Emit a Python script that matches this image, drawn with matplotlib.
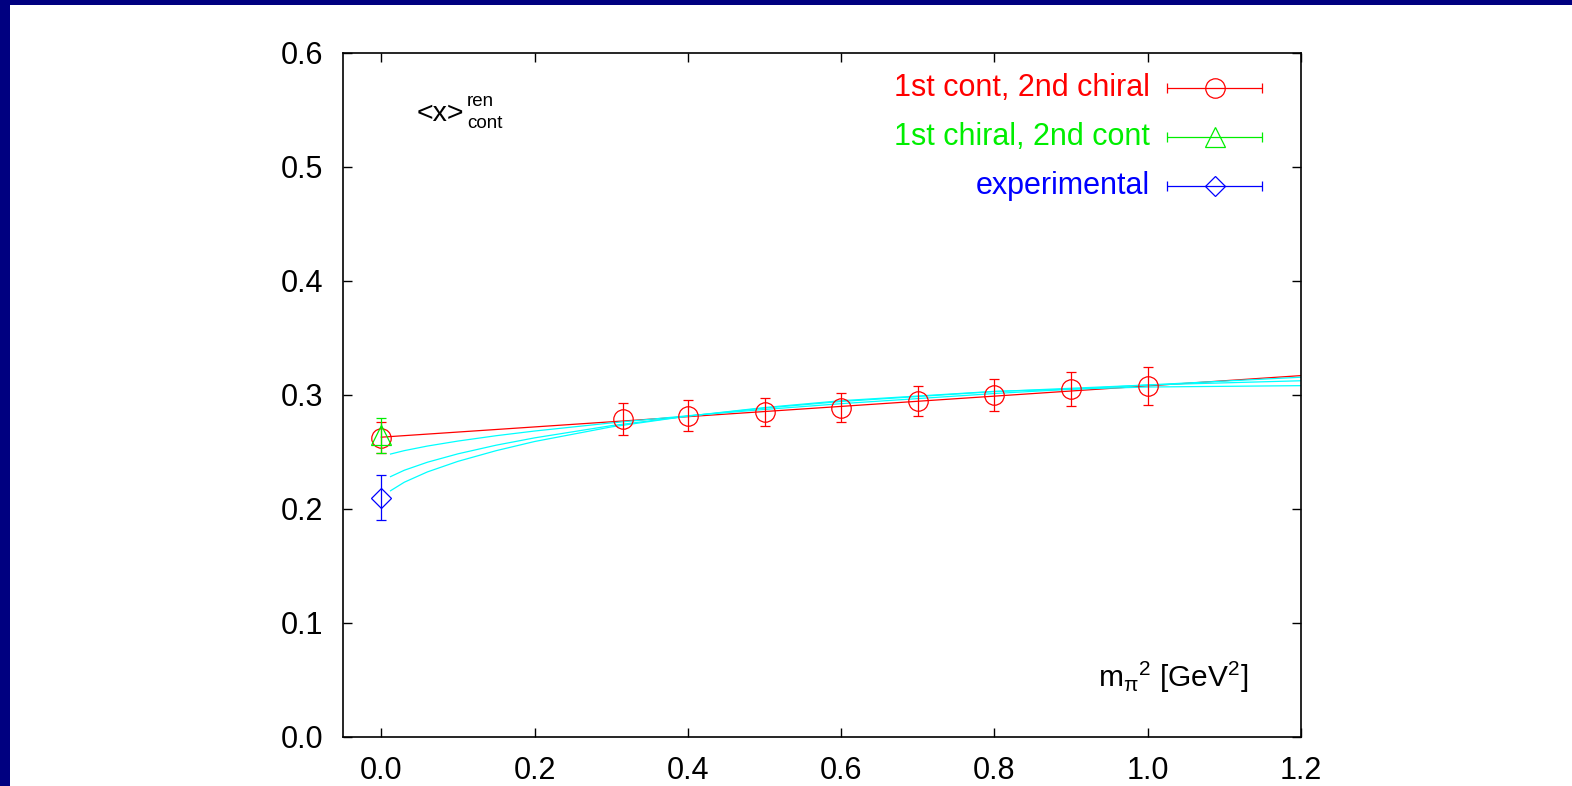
import matplotlib
matplotlib.use("Agg")
from matplotlib import pyplot as plt
from matplotlib.patches import Rectangle

plt.rcParams['font.family'] = ['Liberation Sans', 'DejaVu Sans']
plt.rcParams['mathtext.fontset'] = 'custom'
plt.rcParams['mathtext.rm'] = 'Liberation Sans'
plt.rcParams['mathtext.it'] = 'Liberation Sans'

# data
contX = [0.0, 0.315, 0.4, 0.5, 0.6, 0.7, 0.8, 0.9, 1.0]
contY = [0.2625, 0.279, 0.282, 0.285, 0.289, 0.295, 0.300, 0.305, 0.308]
contE = [0.0135, 0.014, 0.0135, 0.0125, 0.0125, 0.013, 0.014, 0.015, 0.017]

chiralX = [0.0]
chiralY = [0.2645]
chiralE = [0.0155]

expX = [0.0]
expY = [0.21]
expE = [0.02]

fitX = [0.0, 1.2]
fitY = [0.263, 0.317]

curveX = [0.012, 0.03, 0.06, 0.1, 0.15, 0.2, 0.3, 0.4, 0.5, 0.6, 0.8, 1.0, 1.2]
curve1 = [0.2482, 0.2512, 0.2552, 0.2596, 0.2643, 0.2684, 0.2755, 0.2818, 0.2873, 0.2924, 0.3013, 0.3088, 0.3156]
curve2 = [0.2284, 0.2340, 0.2410, 0.2484, 0.2560, 0.2624, 0.2731, 0.2815, 0.2885, 0.2943, 0.3030, 0.3088, 0.3125]
curve3 = [0.2160, 0.2235, 0.2325, 0.2418, 0.2512, 0.2592, 0.2720, 0.2815, 0.2890, 0.2950, 0.3032, 0.3070, 0.3082]

labels = ["1st cont, 2nd chiral", "1st chiral, 2nd cont", "experimental"]
colors = ["#ff0000", "#00ee00", "#0000ff"]

fig = plt.figure(figsize=(15.72, 7.86), dpi=100)
fig.patch.set_facecolor("#000080")
fig.patches.append(Rectangle((10/1572, 0), 1 - 10/1572, 1 - 4.7/786,
                             transform=fig.transFigure, facecolor="white",
                             edgecolor="none", zorder=-10))

ax = fig.add_axes([343/1572, 1 - 737/786, 958/1572, 684/786])
ax.set_facecolor("white")

for c in [curve1, curve2, curve3]:
    ax.plot(curveX, c, color="#00ffff", lw=0.9, zorder=2)
ax.plot(fitX, fitY, color="#ff0000", lw=0.9, zorder=1)

ms = {"o": 14, "^": 14, "D": 10}
ax.errorbar(contX, contY, yerr=contE, fmt="o", mfc="none", mec=colors[0],
            ecolor=colors[0], ms=ms["o"], mew=0.9, elinewidth=0.9,
            capsize=3.5, capthick=0.9, zorder=3)
ax.errorbar(chiralX, chiralY, yerr=chiralE, fmt="^", mfc="none", mec=colors[1],
            ecolor=colors[1], ms=ms["^"], mew=0.9, elinewidth=0.9,
            capsize=3.5, capthick=0.9, zorder=4)
ax.errorbar(expX, expY, yerr=expE, fmt="D", mfc="none", mec=colors[2],
            ecolor=colors[2], ms=ms["D"], mew=0.9, elinewidth=0.9,
            capsize=3.5, capthick=0.9, zorder=3)

# legend drawn by hand, gnuplot style
legY = [0.5693, 0.5263, 0.4833]
for lab, col, mk, yy in zip(labels, colors, ["o", "^", "D"], legY):
    ax.text(1.003, yy, lab, color=col, fontsize=22, ha="right", va="center")
    ax.errorbar([1.0875], [yy], xerr=[0.0618], fmt=mk, mfc="none", mec=col,
                ecolor=col, ms=ms[mk], mew=0.9, elinewidth=0.9,
                capsize=3.5, capthick=0.9)

ax.text(417/1572, 1 - 114/786, "<x>", transform=fig.transFigure,
        fontsize=20.5, ha="left", va="center")
ax.text(467/1572, 1 - 101/786, "ren", transform=fig.transFigure,
        fontsize=13.5, ha="left", va="center")
ax.text(467/1572, 1 - 123/786, "cont", transform=fig.transFigure,
        fontsize=13.5, ha="left", va="center")

ax.text(1248/1572, 1 - 677/786, r"m$_{\pi}$$^{2}$ [GeV$^{2}$]",
        transform=fig.transFigure, fontsize=21.5, ha="right", va="center")

ax.set_xlim(-0.05, 1.2)
ax.set_ylim(0.0, 0.6)
ax.set_xticks([0.0, 0.2, 0.4, 0.6, 0.8, 1.0, 1.2])
ax.set_yticks([0.0, 0.1, 0.2, 0.3, 0.4, 0.5, 0.6])
ax.set_xticklabels(["0.0", "0.2", "0.4", "0.6", "0.8", "1.0", "1.2"])
ax.set_yticklabels(["0.0", "0.1", "0.2", "0.3", "0.4", "0.5", "0.6"])
ax.tick_params(direction="in", length=6.8, width=1.0, top=True, right=True,
               labelsize=22)
ax.tick_params(axis="y", pad=14)
ax.tick_params(axis="x", pad=14)
for s in ax.spines.values():
    s.set_linewidth(1.2)

plt.savefig("out.png", dpi=100, facecolor=fig.get_facecolor())
